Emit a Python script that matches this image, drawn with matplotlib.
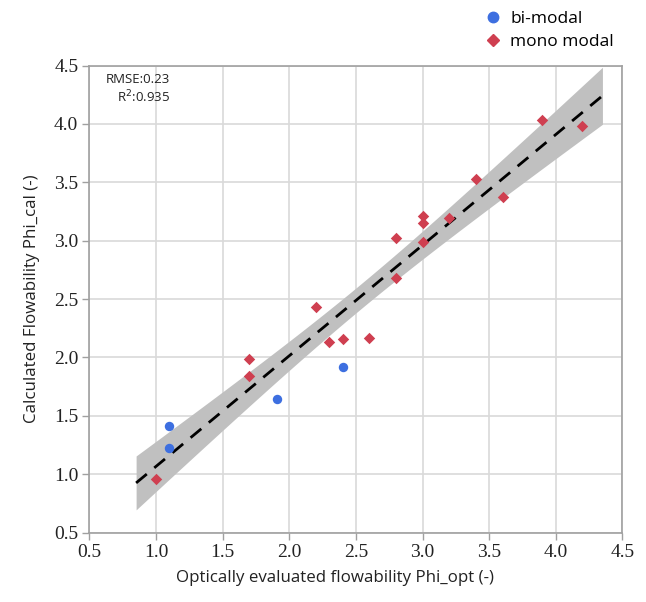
import numpy as np
import matplotlib
matplotlib.use("Agg")
import matplotlib.pyplot as plt
from matplotlib.lines import Line2D

# Data
bi_x = [1.1, 1.1, 1.91, 2.4]
bi_y = [1.41, 1.22, 1.64, 1.92]
mono_x = [1.0, 1.7, 1.7, 2.2, 2.3, 2.4, 2.6, 2.8, 2.8, 3.0, 3.0, 3.0, 3.2, 3.4, 3.6, 3.9, 4.2]
mono_y = [0.96, 1.99, 1.84, 2.43, 2.13, 2.16, 2.17, 3.02, 2.68, 3.21, 3.15, 2.99, 3.19, 3.53, 3.37, 4.03, 3.98]
fit_range = [0.85, 4.35]
xticks = [0.5, 1.0, 1.5, 2.0, 2.5, 3.0, 3.5, 4.0, 4.5]
yticks = [0.5, 1.0, 1.5, 2.0, 2.5, 3.0, 3.5, 4.0, 4.5]
stats_text = "RMSE:0.23\nR$^2$:0.935"

blue = "#3d6fe0"
red = "#cf3f50"

fig = plt.figure(figsize=(6.46, 6.02), dpi=100)
ax = fig.add_axes([0.1385, 0.1154, 0.825, 0.7757])

# Regression fit on all points
X = np.array(bi_x + mono_x)
Y = np.array(bi_y + mono_y)
n = len(X)
b, a = np.polyfit(X, Y, 1)
xs = np.linspace(fit_range[0], fit_range[1], 200)
ys = a + b * xs
resid = Y - (a + b * X)
s = np.sqrt(np.sum(resid ** 2) / (n - 2))
Sxx = np.sum((X - X.mean()) ** 2)
se = s * np.sqrt(1.0 / n + (xs - X.mean()) ** 2 / Sxx)
tval = 2.069
ax.fill_between(xs, ys - tval * se, ys + tval * se, color="#c0c0c0", lw=0, zorder=2)
ax.plot(xs, ys, color="black", lw=2, dashes=(5, 3.5), zorder=3)

ax.scatter(bi_x, bi_y, s=46, marker="o", color=blue, zorder=4, linewidths=0)
ax.scatter(mono_x, mono_y, s=34, marker="D", color=red, zorder=4, linewidths=0)

ax.set_xlim(0.5, 4.5)
ax.set_ylim(0.5, 4.5)
ax.set_xticks(xticks)
ax.set_yticks(yticks)
ax.set_xticklabels([f"{v:.1f}" for v in xticks], family="Liberation Serif", fontsize=14, color="#222222")
ax.set_yticklabels([f"{v:.1f}" for v in yticks], family="Liberation Serif", fontsize=14, color="#222222")
ax.grid(True, color="#d9d9d9", lw=1.2, zorder=0)
ax.set_axisbelow(True)
for sp in ax.spines.values():
    sp.set_color("#a0a0a0")
    sp.set_linewidth(1.2)
ax.tick_params(length=5, width=1, color="#a0a0a0", pad=3)

ax.set_xlabel("Optically evaluated flowability Phi_opt (-)", family="Open Sans", fontsize=12.2, color="#222222", labelpad=4)
ax.xaxis.set_label_coords(0.46, -0.08)
ax.set_ylabel("Calculated Flowability Phi_cal (-)", family="Open Sans", fontsize=12.2, color="#222222", labelpad=10)

ax.text(0.152, 0.985, stats_text, transform=ax.transAxes, ha="right", va="top",
        family="Open Sans", fontsize=9.5, color="#222222", linespacing=1.25)

handles = [
    Line2D([], [], marker="o", color=blue, lw=0, markersize=7.5),
    Line2D([], [], marker="D", color=red, lw=0, markersize=6.5),
]
fig.legend(handles, ["bi-modal", "mono modal"], loc="upper left", bbox_to_anchor=(0.725, 1.008),
           frameon=False, prop={"family": "Open Sans", "size": 12.5}, handletextpad=0.5,
           labelspacing=0.4, handlelength=1.0)

fig.savefig("out.png", dpi=100)
